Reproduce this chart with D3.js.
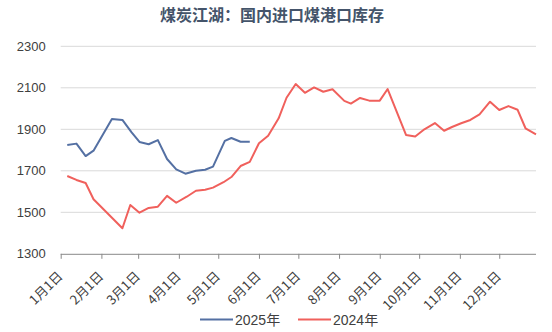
<!DOCTYPE html>
<html><head><meta charset="utf-8">
<script src="https://cdn.jsdelivr.net/npm/d3@7"></script>
<style>
body{margin:0;background:#fff;}
svg{display:block;font-family:"Liberation Sans","Noto Sans CJK SC",sans-serif;}
</style></head>
<body><svg id="c" width="552" height="332"></svg>
<script>
const title = "煤炭江湖：国内进口煤港口库存";
const seriesNames = ["2025年", "2024年"];
const dates2025 = ["01-06","01-13","01-20","01-26","02-09","02-17","02-24","03-02","03-09","03-16","03-23","03-30","04-06","04-14","04-21","04-27","05-06","05-11","05-18","05-25"];
const values2025 = [1824,1831,1771,1797,1950,1945,1885,1839,1828,1848,1757,1707,1686,1700,1705,1720,1844,1858,1840,1840];
const dates2024 = ["01-06","01-13","01-20","01-26","02-17","02-23","03-02","03-09","03-16","03-23","03-30","04-07","04-14","04-21","04-27","05-05","05-11","05-18","05-25","06-01","06-08","06-16","06-22","06-29","07-06","07-13","07-20","07-27","08-05","08-10","08-17","08-24","09-01","09-07","09-21","09-28","10-05","10-13","10-20","10-26","11-02","11-09","11-16","11-24","12-01","12-08","12-15","12-21","12-29"];
const values2024 = [1675,1656,1641,1563,1423,1535,1498,1521,1527,1579,1546,1575,1604,1609,1619,1645,1670,1723,1743,1833,1869,1953,2052,2118,2076,2102,2081,2093,2037,2024,2051,2038,2038,2094,1873,1865,1900,1930,1893,1911,1929,1945,1972,2033,1993,2012,1994,1905,1876];
const yTicks = [1300,1500,1700,1900,2100,2300];
const monthTicks = ["01-01","02-01","03-01","04-01","05-01","06-01","07-01","08-01","09-01","10-01","11-01","12-01"];
const colors = ["#5470a3","#f0605c"];

const parse = s => d3.timeParse("%Y-%m-%d")("2025-" + s);
const svg = d3.select("#c");
const L = 60.7, R = 536, T = 46.3, B = 253.8;
const x = d3.scaleTime().domain([parse("01-01"), parse("12-29")]).range([L, R]);
const y = d3.scaleLinear().domain([1300, 2300]).range([B, T]);

svg.append("text").attr("x", 272).attr("y", 21).attr("text-anchor","middle")
  .attr("font-size", 16).attr("font-weight","bold").attr("fill","#44546a")
  .attr("font-family","'Noto Sans CJK SC',sans-serif").text(title);

// grid
svg.append("g").selectAll("line").data(yTicks.filter(v=>v>1300)).join("line")
  .attr("x1", L).attr("x2", R).attr("y1", d=>y(d)).attr("y2", d=>y(d))
  .attr("stroke","#d9d9d9").attr("stroke-width",1);

// y labels
const yAxis = d3.axisLeft(y).tickValues(yTicks).tickSize(0).tickPadding(15).tickFormat(d3.format("d"));
const gy = svg.append("g").attr("transform",`translate(${L},0)`).call(yAxis);
gy.select(".domain").remove();
gy.selectAll("text").attr("font-size",13).attr("fill","#404040").attr("font-family","'Liberation Sans',sans-serif");

// x axis
const xAxis = d3.axisBottom(x).tickValues(monthTicks.map(parse)).tickSize(5).tickFormat(d => (d.getMonth()+1)+"月1日");
const gx = svg.append("g").attr("transform",`translate(0,${B})`).call(xAxis);
gx.select(".domain").attr("stroke","#898989").attr("d", `M${L},0.5H${R}`);
gx.selectAll(".tick line").attr("stroke","#898989");
gx.selectAll("text").attr("font-size",13).attr("fill","#404040")
  .attr("font-family","'Noto Sans CJK SC',sans-serif")
  .attr("text-anchor","end").attr("dy","0.35em")
  .attr("transform","translate(-1,20) rotate(-45)").attr("y",0).attr("x",0);

const line = d3.line().x(d=>x(d.date)).y(d=>y(d.v));
const s25 = dates2025.map((d,i)=>({date:parse(d), v:values2025[i]}));
const s24 = dates2024.map((d,i)=>({date:parse(d), v:values2024[i]}));
svg.append("path").datum(s24).attr("d",line).attr("fill","none").attr("stroke",colors[1]).attr("stroke-width",2).attr("stroke-linejoin","round");
svg.append("path").datum(s25).attr("d",line).attr("fill","none").attr("stroke",colors[0]).attr("stroke-width",2).attr("stroke-linejoin","round");

// legend
const lg = svg.append("g");
const items = [{x:200, c:colors[0], t:seriesNames[0]},{x:298, c:colors[1], t:seriesNames[1]}];
items.forEach(it=>{
  lg.append("line").attr("x1",it.x).attr("x2",it.x+33).attr("y1",319.5).attr("y2",319.5).attr("stroke",it.c).attr("stroke-width",2);
  lg.append("text").attr("x",it.x+35).attr("y",320).attr("dy","0.35em").attr("font-size",14).attr("fill","#404040")
    .attr("font-family","'Liberation Sans','Noto Sans CJK SC',sans-serif").text(it.t);
});
</script></body></html>
